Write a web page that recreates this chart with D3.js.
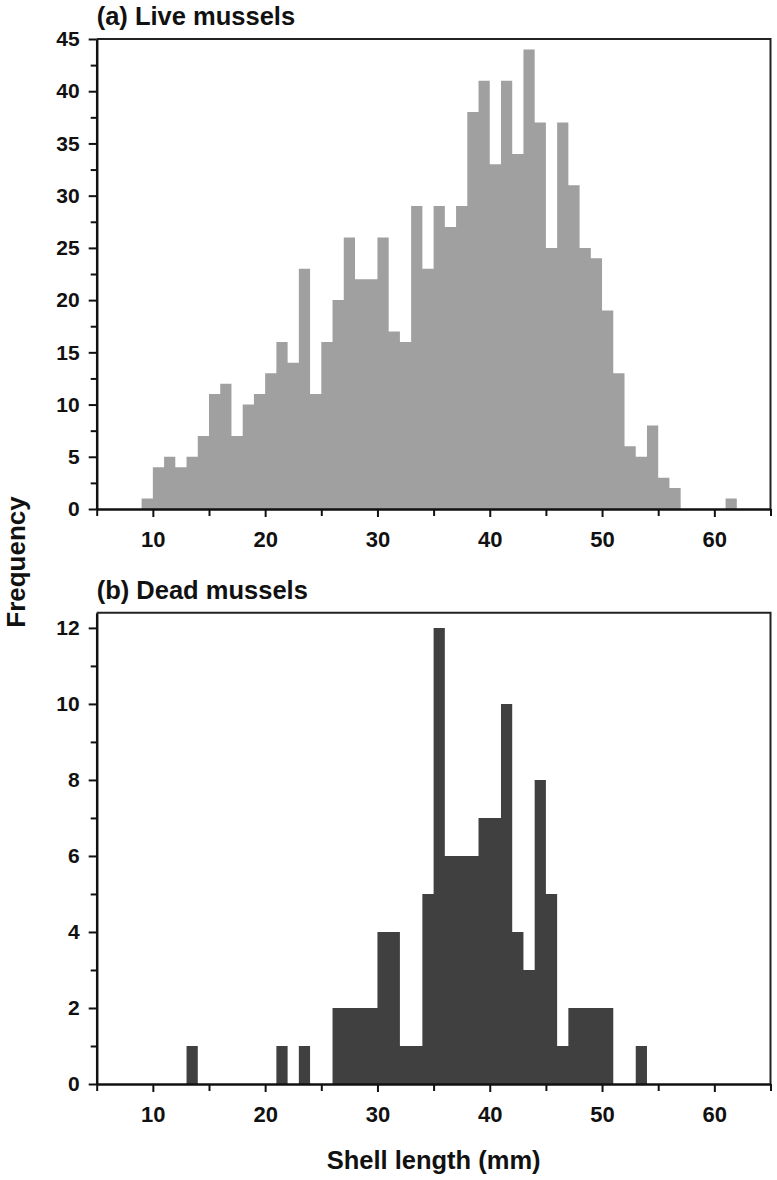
<!DOCTYPE html>
<html>
<head>
<meta charset="utf-8">
<script src="https://cdn.jsdelivr.net/npm/d3@7"></script>
<style>
  html, body { margin: 0; padding: 0; background: #fff; }
  svg { display: block; font-family: "Liberation Sans", Arial, sans-serif; }
</style>
</head>
<body>
<svg id="chart" width="777" height="1180"></svg>
<script>
// ---- data ----
const liveFirstBin = 9;        // lower edge (mm) of first live bin
const liveCounts = [1, 4, 5, 4, 5, 7, 11, 12, 7, 10, 11, 13, 16, 14, 23, 11, 16, 20, 26, 22, 22, 26, 17, 16, 29, 23, 29, 27, 29, 38, 41, 33, 41, 34, 44, 37, 25, 37, 31, 25, 24, 19, 13, 6, 5, 8, 3, 2, 0, 0, 0, 0, 1];
const deadFirstBin = 13;
const deadCounts = [1, 0, 0, 0, 0, 0, 0, 0, 1, 0, 1, 0, 0, 2, 2, 2, 2, 4, 4, 1, 1, 5, 12, 6, 6, 6, 7, 7, 10, 4, 3, 8, 5, 1, 2, 2, 2, 2, 0, 0, 1];
const xTicks = [10, 20, 30, 40, 50, 60];
const xMinor = [5, 15, 25, 35, 45, 55, 65];
const liveYTicks = [0, 5, 10, 15, 20, 25, 30, 35, 40, 45];
const liveYMinor = [2.5, 7.5, 12.5, 17.5, 22.5, 27.5, 32.5, 37.5, 42.5];
const deadYTicks = [0, 2, 4, 6, 8, 10, 12];
const deadYMinor = [1, 3, 5, 7, 9, 11];
const titles = ["(a) Live mussels", "(b) Dead mussels"];
const xTitle = "Shell length (mm)";
const yTitle = "Frequency";

const svg = d3.select("#chart");
const left = 96.7, right = 770.5;
const x = d3.scaleLinear().domain([5, 65]).range([left, right]);

function panel(cfg) {
  const y = d3.scaleLinear().domain(cfg.ydom).range([cfg.bottom, cfg.top]);
  const g = svg.append("g");
  // histogram bins drawn as one stepped area (no seams between adjacent bars)
  const pts = cfg.counts.map((c, i) => ({edge: cfg.first + i, c}));
  pts.push({edge: cfg.first + cfg.counts.length, c: cfg.counts[cfg.counts.length - 1]});
  const area = d3.area()
    .x(d => x(d.edge))
    .y0(y(0))
    .y1(d => y(d.c))
    .curve(d3.curveStepAfter);
  g.append("path").datum(pts)
    .attr("d", area)
    .attr("fill", cfg.fill);

  // frame top & right
  g.append("path")
    .attr("d", `M${left},${cfg.top}H${right}V${cfg.bottom}`)
    .attr("fill", "none").attr("stroke", "#222").attr("stroke-width", 2);

  // x axis
  const xa = g.append("g").attr("transform", `translate(0,${cfg.bottom})`)
    .call(d3.axisBottom(x).tickValues(xTicks).tickSize(8).tickSizeOuter(0).tickFormat(d3.format("d")));
  xa.select(".domain").attr("stroke", "#111").attr("stroke-width", 2.5);
  xa.selectAll(".tick line").attr("stroke", "#111").attr("stroke-width", 2);
  xa.selectAll(".tick text").attr("y", 38).attr("dy", 0)
    .attr("font-size", 22).attr("font-weight", "bold").attr("fill", "#111")
    .attr("font-family", "Liberation Sans, Arial, sans-serif");
  const xm = g.append("g").attr("transform", `translate(0,${cfg.bottom})`)
    .call(d3.axisBottom(x).tickValues(xMinor).tickSize(7).tickFormat(""));
  xm.select(".domain").remove();
  xm.selectAll(".tick line").attr("stroke", "#111").attr("stroke-width", 2);

  // y axis
  const ya = g.append("g").attr("transform", `translate(${left},0)`)
    .call(d3.axisLeft(y).tickValues(cfg.yticks).tickSize(8).tickSizeOuter(0).tickPadding(9).tickFormat(d3.format("d")));
  ya.select(".domain").attr("stroke", "#111").attr("stroke-width", 2.5);
  ya.selectAll(".tick line").attr("stroke", "#111").attr("stroke-width", 2);
  ya.selectAll(".tick text")
    .attr("font-size", 21).attr("font-weight", "bold").attr("fill", "#111")
    .attr("font-family", "Liberation Sans, Arial, sans-serif");
  const ym = g.append("g").attr("transform", `translate(${left},0)`)
    .call(d3.axisLeft(y).tickValues(cfg.yminor).tickSize(6).tickFormat(""));
  ym.select(".domain").remove();
  ym.selectAll(".tick line").attr("stroke", "#111").attr("stroke-width", 2);

  g.append("text").attr("x", left).attr("y", cfg.titleY)
    .attr("font-size", 25.5).attr("font-weight", "bold").attr("fill", "#111")
    .text(cfg.title);
}

panel({counts: liveCounts, first: liveFirstBin, ydom: [0, 45], top: 39, bottom: 509,
  fill: "#a0a0a0", yticks: liveYTicks, yminor: liveYMinor,
  title: titles[0], titleY: 25});
panel({counts: deadCounts, first: deadFirstBin, ydom: [0, 12.4], top: 612.7, bottom: 1084,
  fill: "#404040", yticks: deadYTicks, yminor: deadYMinor,
  title: titles[1], titleY: 599});

svg.append("text").attr("x", (left + right) / 2).attr("y", 1169)
  .attr("text-anchor", "middle").attr("font-size", 25.5).attr("font-weight", "bold").attr("fill", "#111")
  .text(xTitle);
svg.append("text").attr("transform", "translate(25,562) rotate(-90)")
  .attr("text-anchor", "middle").attr("font-size", 26).attr("font-weight", "bold").attr("fill", "#111")
  .text(yTitle);
</script>
</body>
</html>
